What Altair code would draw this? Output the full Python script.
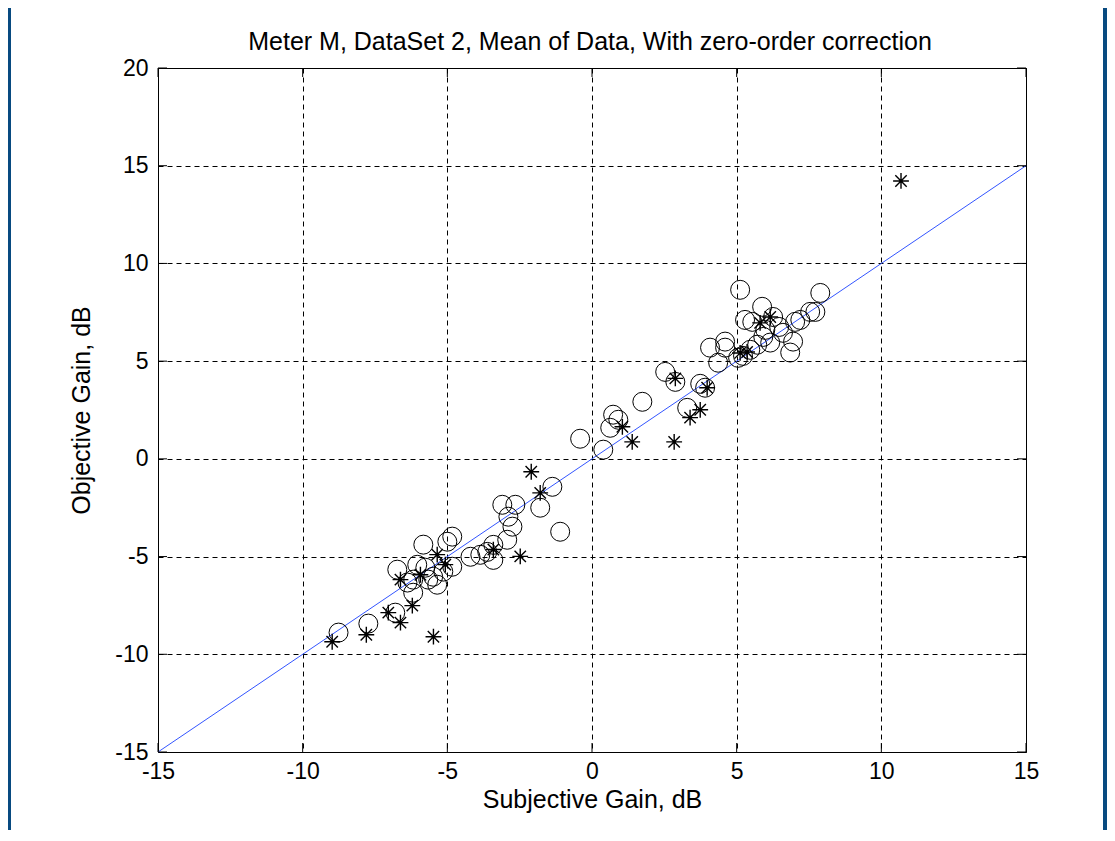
import altair as alt
import pandas as pd

# ---- data ----
circle_x = [-8.76, -7.73, -6.80, -6.18, -6.73, -6.04, -5.76, -6.18, -6.38, -5.66,
            -5.35, -5.49, -5.14, -4.83, -5.83, -4.83, -5.00, -4.20, -3.62, -3.41,
            -3.41, -3.86, -2.93, -2.75, -2.89, -3.10, -2.65, -1.79, -1.37, -1.10,
            -0.41, 0.39, 0.63, 0.73, 0.91, 1.74, 2.53, 3.29, 3.91, 3.74,
            4.36, 4.08, 4.60, 4.60, 5.12, 5.29, 5.54, 5.88, 5.92, 6.16,
            6.26, 7.02, 7.20, 7.54, 7.72, 7.89, 6.95, 6.85, 5.22, 5.47,
            5.71, 5.05, 2.88, 5.99, 6.47, 6.60]
circle_y = [-8.89, -8.43, -7.87, -6.85, -5.67, -5.42, -5.57, -6.18, -6.33, -6.18,
            -6.44, -6.03, -5.77, -5.52, -4.39, -3.98, -4.24, -5.01, -4.76, -4.40,
            -5.17, -4.91, -4.14, -3.47, -2.96, -2.35, -2.35, -2.50, -1.43, -3.73,
            1.03, 0.47, 1.59, 2.26, 2.00, 2.92, 4.45, 2.61, 3.64, 3.84,
            4.92, 5.69, 5.69, 6.00, 8.65, 7.11, 7.01, 7.78, 6.24, 5.95,
            7.26, 7.01, 7.11, 7.52, 7.52, 8.49, 6.00, 5.44, 5.27, 5.58,
            5.84, 5.17, 3.94, 6.60, 6.75, 6.45]

star_x = [10.68, -8.98, -7.80, -5.48, -7.04, -6.62, -6.21, -2.10, -1.79, -2.48,
          -3.41, -5.07, -5.35, -6.62, 1.05, 1.39, 2.84, 3.39, 3.74, 3.98,
          2.88, 5.36, 6.16, 5.12, -5.93, 5.81]
star_y = [14.22, -9.36, -9.00, -9.10, -7.87, -8.38, -7.51, -0.66, -1.74, -4.99,
          -4.64, -5.41, -4.90, -6.18, 1.64, 0.87, 0.87, 2.11, 2.51, 3.64,
          4.12, 5.47, 7.26, 5.42, -5.93, 6.96]

line_x = [-15, 15]
line_y = [-15, 15]

x_ticks = [-15, -10, -5, 0, 5, 10, 15]
y_ticks = [-15, -10, -5, 0, 5, 10, 15, 20]

title_text = "Meter M,  DataSet 2,  Mean of Data, With zero-order correction"
x_title = "Subjective Gain, dB"
y_title = "Objective Gain, dB"

# ---- layout ----
W, H = 868, 684
PAD_L, PAD_T, PAD_R, PAD_B = 150, 60, 81, 78
FONT = "Liberation Sans"
FS_LAB = 23
FS_TIT = 25
BLUE = "#084a80"
TICK = 9
STAR = "M-1,0L1,0M0,-1L0,1M-0.72,-0.72L0.72,0.72M-0.72,0.72L0.72,-0.72"

xs = alt.Scale(domain=[-15, 15], nice=False, zero=False)
ys = alt.Scale(domain=[-15, 20], nice=False, zero=False)

common = dict(grid=True, gridDash=[5, 4], gridColor="#000000", gridOpacity=1,
              gridWidth=1, domain=False, ticks=False, labelFont=FONT,
              labelFontSize=FS_LAB, labelColor="#000000", labelFlush=False,
              labelExpr="'' + datum.value", titleFont=FONT, titleFontSize=FS_TIT,
              titleFontWeight="normal", titleColor="#000000")

x_axis = alt.Axis(values=x_ticks, labelPadding=8, title=x_title, titlePadding=4, **common)
y_axis = alt.Axis(values=y_ticks, labelPadding=10, title=y_title, titlePadding=20, **common)


def X(field):
    return alt.X(field, scale=xs, axis=x_axis, title=x_title)


def Y(field):
    return alt.Y(field, scale=ys, axis=y_axis, title=y_title)


circles = pd.DataFrame({"x": circle_x, "y": circle_y})
stars = pd.DataFrame({"x": star_x, "y": star_y})
ref = pd.DataFrame({"x": line_x, "y": line_y})
xt = pd.DataFrame({"x": x_ticks})
yt = pd.DataFrame({"y": y_ticks})
one = pd.DataFrame({"t": [title_text]})

line = alt.Chart(ref).mark_line(color="#3355ff", strokeWidth=1).encode(
    x=X("x:Q"), y=Y("y:Q"))

circ = alt.Chart(circles).mark_point(shape="circle", size=360, filled=False,
                                     stroke="#000000", strokeWidth=1, opacity=1).encode(
    x=X("x:Q"), y=Y("y:Q"))

star = alt.Chart(stars).mark_point(shape=STAR, size=250, filled=False,
                                   stroke="#000000", strokeWidth=1.4, opacity=1).encode(
    x=X("x:Q"), y=Y("y:Q"))

tb = alt.Chart(xt).mark_rule(color="#000000", strokeWidth=1).encode(
    x=X("x:Q"), y=alt.value(H), y2=alt.value(H - TICK))
tt = alt.Chart(xt).mark_rule(color="#000000", strokeWidth=1).encode(
    x=X("x:Q"), y=alt.value(0), y2=alt.value(TICK))
tl = alt.Chart(yt).mark_rule(color="#000000", strokeWidth=1).encode(
    y=Y("y:Q"), x=alt.value(0), x2=alt.value(TICK))
tr = alt.Chart(yt).mark_rule(color="#000000", strokeWidth=1).encode(
    y=Y("y:Q"), x=alt.value(W), x2=alt.value(W - TICK))

title = alt.Chart(one).mark_text(font=FONT, fontSize=FS_TIT, color="#000000",
                                 align="center", baseline="middle").encode(
    text="t:N", x=alt.value(W / 2 - 2), y=alt.value(-26))

left_strip = alt.Chart(one).mark_rect(color=BLUE).encode(
    x=alt.value(-PAD_L), x2=alt.value(-PAD_L + 3),
    y=alt.value(-PAD_T), y2=alt.value(H + PAD_B))
right_strip = alt.Chart(one).mark_rect(color=BLUE).encode(
    x=alt.value(W + PAD_R - 4), x2=alt.value(W + PAD_R),
    y=alt.value(-PAD_T), y2=alt.value(H + PAD_B))

chart = alt.layer(line, circ, star, tb, tt, tl, tr, title, left_strip, right_strip).properties(
    width=W, height=H,
    autosize=alt.AutoSizeParams(type="none"),
    padding={"left": PAD_L, "top": PAD_T, "right": PAD_R, "bottom": PAD_B},
    background="#ffffff",
).configure_view(stroke="#000000", strokeWidth=1)

chart.save("out.html", embed_options={"renderer": "svg", "actions": False})
